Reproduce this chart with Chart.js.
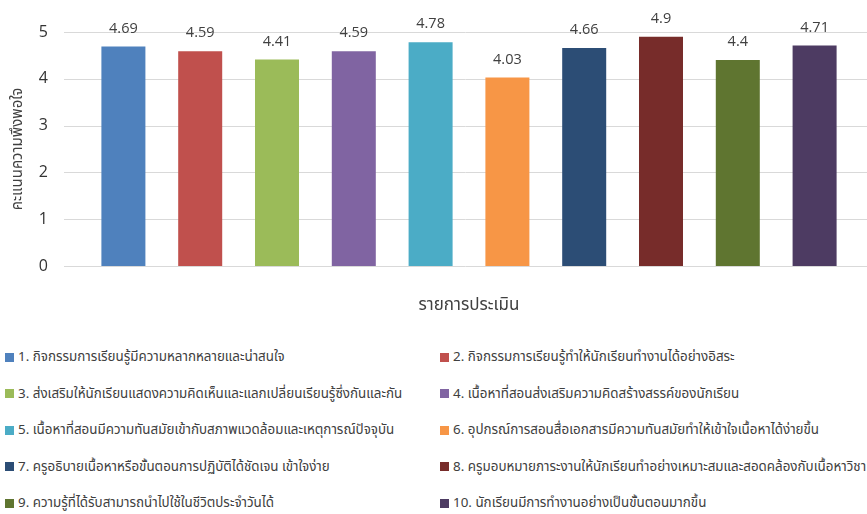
<!DOCTYPE html>
<html>
<head>
<meta charset="utf-8">
<script src="https://cdn.jsdelivr.net/npm/chart.js@4.4.1/dist/chart.umd.min.js"></script>
<style>
  html, body { margin: 0; padding: 0; background: #fff; overflow: hidden; }
  #wrap { position: relative; width: 867px; height: 514px; overflow: hidden; }
  #chartBox { position: absolute; left: 0; top: 0; width: 867px; height: 320px; }
  #legend {
    position: absolute; left: 5px; top: 339px;
    display: grid; grid-template-columns: 435px 600px; grid-auto-rows: 36.5px;
    font-family: Tahoma, "Noto Sans Thai", "Noto Sans", sans-serif; font-size: 13.4px; color: #404040;
    white-space: nowrap;
  }
  #legend .item { display: flex; align-items: center; }
  #legend .box { width: 9px; height: 9px; margin-right: 4px; flex: none; }
</style>
</head>
<body>
<div id="wrap">
  <div id="chartBox"><canvas id="chartScores"></canvas></div>
  <div id="legend"></div>
</div>
<script>
// items being rated
const ITEMS = [
  '1. กิจกรรมการเรียนรู้มีความหลากหลายและน่าสนใจ',
  '2. กิจกรรมการเรียนรู้ทำให้นักเรียนทำงานได้อย่างอิสระ',
  '3. ส่งเสริมให้นักเรียนแสดงความคิดเห็นและแลกเปลี่ยนเรียนรู้ซึ่งกันและกัน',
  '4. เนื้อหาที่สอนส่งเสริมความคิดสร้างสรรค์ของนักเรียน',
  '5. เนื้อหาที่สอนมีความทันสมัยเข้ากับสภาพแวดล้อมและเหตุการณ์ปัจจุบัน',
  '6. อุปกรณ์การสอนสื่อเอกสารมีความทันสมัยทำให้เข้าใจเนื้อหาได้ง่ายขึ้น',
  '7. ครูอธิบายเนื้อหาหรือขั้นตอนการปฏิบัติได้ชัดเจน เข้าใจง่าย',
  '8. ครูมอบหมายภาระงานให้นักเรียนทำอย่างเหมาะสมและสอดคล้องกับเนื้อหาวิชา',
  '9. ความรู้ที่ได้รับสามารถนำไปใช้ในชีวิตประจำวันได้',
  '10. นักเรียนมีการทำงานอย่างเป็นขั้นตอนมากขึ้น'
];

// mean satisfaction score per item
const SCORES = [4.69, 4.59, 4.41, 4.59, 4.78, 4.03, 4.66, 4.9, 4.4, 4.71];

const COLORS = [
  '#4f81bd', '#c0504d', '#9bbb59', '#8064a2', '#4bacc6',
  '#f79646', '#2c4d75', '#772c2a', '#5f7530', '#4d3b62'
];

const Y_TICKS = [0, 1, 2, 3, 4, 5];
const Y_TITLE = 'คะแนนความพึงพอใจ';
const X_TITLE = 'รายการประเมิน';

const TEXT = '#404040';
const GRID = '#d9d9d9';
const THAI_FONT = 'Tahoma, "Noto Sans Thai", "Noto Sans", sans-serif';

/**
 * Horizontal gridlines running past the plot area (Excel style)
 */
const wideGrid = {
  id: 'wideGrid',
  beforeDatasetsDraw(chart) {
    const { ctx } = chart;
    const y = chart.scales.y;
    ctx.save();
    ctx.strokeStyle = GRID;
    ctx.lineWidth = 1;
    Y_TICKS.forEach(v => {
      const py = Math.round(y.getPixelForValue(v)) + 0.5;
      ctx.beginPath();
      ctx.moveTo(64, py);
      ctx.lineTo(chart.width, py);
      ctx.stroke();
    });
    ctx.restore();
  }
};

/**
 * Value labels above each bar
 */
const valueLabels = {
  id: 'valueLabels',
  afterDatasetsDraw(chart) {
    const { ctx } = chart;
    const meta = chart.getDatasetMeta(0);
    ctx.save();
    ctx.fillStyle = TEXT;
    ctx.font = '14.5px "Open Sans", sans-serif';
    ctx.textAlign = 'center';
    ctx.textBaseline = 'middle';
    meta.data.forEach((bar, i) => {
      ctx.fillText(String(SCORES[i]), bar.x, bar.y - 18);
    });
    ctx.restore();
  }
};

const ctx = document.getElementById('chartScores').getContext('2d');

new Chart(ctx, {
  type: 'bar',
  data: {
    labels: ITEMS,
    datasets: [{
      data: SCORES,
      backgroundColor: COLORS,
      borderWidth: 0,
      categoryPercentage: 1,
      barPercentage: 0.573
    }]
  },
  options: {
    responsive: true,
    maintainAspectRatio: false,
    animation: false,
    layout: { padding: { top: 32, right: 14, left: 0, bottom: 0 } },
    plugins: {
      legend: { display: false },
      tooltip: { enabled: false }
    },
    scales: {
      y: {
        min: 0,
        max: 5,
        afterFit(scale) { scale.width = 85; },
        afterBuildTicks(scale) { scale.ticks = Y_TICKS.map(v => ({ value: v })); },
        // grid hidden (drawn by plugin); tick length only used to push labels left
        grid: { display: false, drawTicks: true, tickLength: 29 },
        border: { display: false },
        ticks: {
          color: '#333333',
          padding: 8,
          font: { family: '"Open Sans", sans-serif', size: 16 }
        },
        title: {
          display: true,
          text: Y_TITLE,
          color: TEXT,
          padding: { top: 10, bottom: 0 },
          font: { family: THAI_FONT, size: 15 }
        }
      },
      x: {
        afterFit(scale) { scale.height = 54; },
        grid: { display: false },
        border: { display: false },
        ticks: { display: false },
        title: {
          display: true,
          text: X_TITLE,
          color: TEXT,
          padding: { top: 31, bottom: 3 },
          font: { family: THAI_FONT, size: 17 }
        }
      }
    }
  },
  plugins: [wideGrid, valueLabels]
});

// two-column legend below the chart
const legend = document.getElementById('legend');
ITEMS.forEach((label, i) => {
  const item = document.createElement('div');
  item.className = 'item';
  item.innerHTML = `<span class="box" style="background:${COLORS[i]}"></span><span>${label}</span>`;
  legend.appendChild(item);
});
</script>
</body>
</html>
